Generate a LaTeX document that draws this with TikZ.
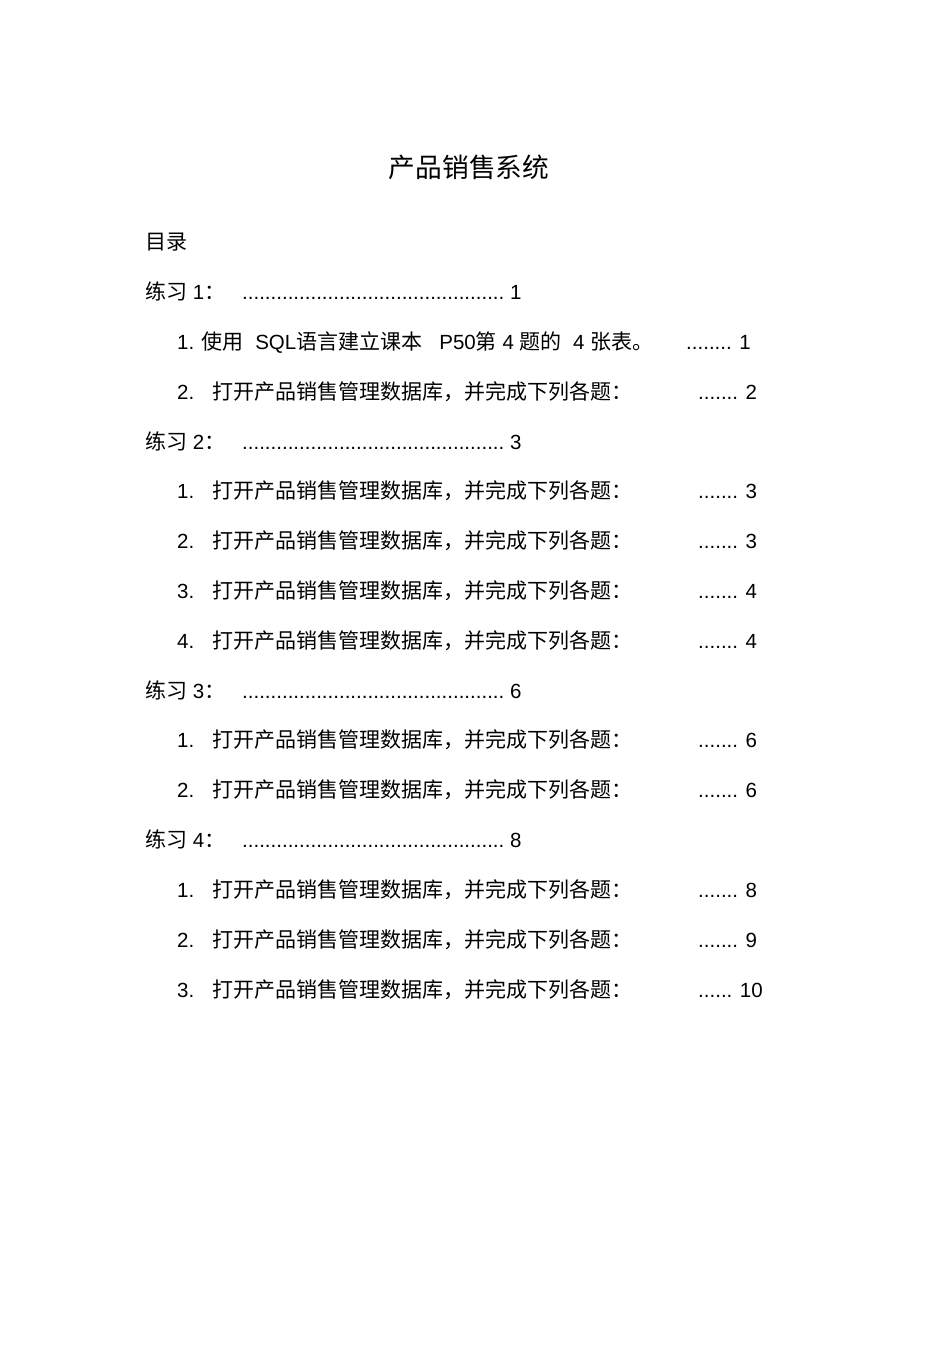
\documentclass[tikz,border=0pt]{standalone}
\usepackage{fontspec}
\setmainfont{Liberation Sans}
\newfontfamily\cjkf{Noto Sans CJK SC}
\newcommand{\cjk}{\cjkf\fontsize{21}{21}\selectfont}
\begin{document}
\begin{tikzpicture}[x=1pt,y=-1pt,
  t/.style={anchor=base west,inner sep=0pt,font=\fontsize{20.5}{21}\selectfont}]
\useasboundingbox (0,0) rectangle (950,1345);
\node[inner sep=0pt,font=\fontsize{26.7}{27}\selectfont\cjkf] (title) at (469,167) {产品销售系统};
\node[t,font=\cjk] (mulu) at (145,249) {目录};
\newcommand{\lvA}[4]{%
  \node[t] (#1a) at (145,#2+7) {{\cjk 练习} #3{\cjk ：}};
  \node[t] (#1b) at (242,#2+7) {..............................................\ #4};}
\newcommand{\lvB}[5]{%
  \node[t] (#1n) at (177,#2+7) {#3.};
  \node[t] (#1a) at (212,#2+7) {\cjk 打开产品销售管理数据库，并完成下列各题：};
  \node[t] (#1b) at (#5,#2+7) {#4};}
\lvA{e1}{292}{1}{1}
\node[t] (s11a) at (177,349) {1. {\cjk 使用} \ SQL{\cjk 语言建立课本} \ \ P50{\cjk 第} 4 {\cjk 题的} \ 4 {\cjk 张表。}};
\node[t] (s11b) at (686,349) {........ 1};
\lvB{s12}{392}{2}{....... 2}{698}
\lvA{e2}{442}{2}{3}
\lvB{s21}{491}{1}{....... 3}{698}
\lvB{s22}{541}{2}{....... 3}{698}
\lvB{s23}{591}{3}{....... 4}{698}
\lvB{s24}{641}{4}{....... 4}{698}
\lvA{e3}{691}{3}{6}
\lvB{s31}{740}{1}{....... 6}{698}
\lvB{s32}{790}{2}{....... 6}{698}
\lvA{e4}{840}{4}{8}
\lvB{s41}{890}{1}{....... 8}{698}
\lvB{s42}{940}{2}{....... 9}{698}
\lvB{s43}{990}{3}{...... 10}{698}
\end{tikzpicture}
\end{document}
